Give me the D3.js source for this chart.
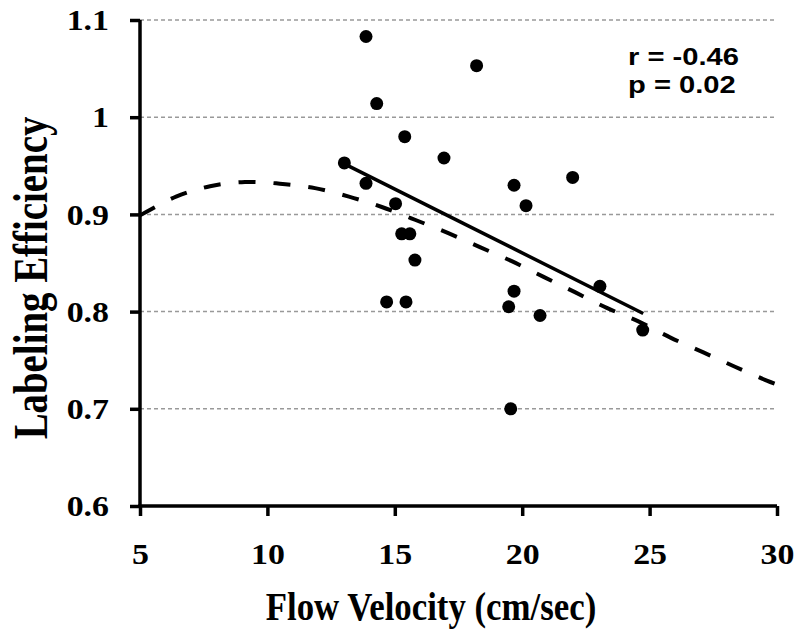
<!DOCTYPE html>
<html>
<head>
<meta charset="utf-8">
<script src="https://cdn.jsdelivr.net/npm/d3@7"></script>
<style>
  html, body { margin: 0; padding: 0; background: #fff; }
  svg { display: block; }
</style>
</head>
<body>
<svg id="chart" width="800" height="636"></svg>
<script>
// ---- Data ----
const pointX = [13.87, 18.21, 14.29, 15.39, 16.93, 13.02, 13.87, 19.68, 21.98, 20.15, 15.03,
                15.27, 15.59, 15.79, 14.68, 15.44, 19.68, 19.47, 20.70, 23.05, 24.73, 19.55];
const pointY = [1.083, 1.053, 1.014, 0.980, 0.958, 0.953, 0.932, 0.930, 0.938, 0.909, 0.911,
                0.880, 0.880, 0.853, 0.810, 0.810, 0.821, 0.805, 0.796, 0.826, 0.781, 0.700];

// linear regression line (solid) end points
const fitX = [13.02, 24.75];
const fitY = [0.952, 0.798];

// dashed model curve
const curveX = [5, 6.44, 7.75, 9.12, 10.49, 11.87, 13.2, 14.49, 15.79, 17.10, 18.34, 19.59,
                20.82, 22.07, 23.32, 24.56, 25.80, 27.11, 28.35, 29.6, 30];
const curveY = [0.899, 0.9186, 0.929, 0.9333, 0.9316, 0.927, 0.9183, 0.9076, 0.8945, 0.8807,
                0.8663, 0.8519, 0.836, 0.820, 0.8038, 0.790, 0.7735, 0.758, 0.7433, 0.729, 0.725];

const xTicks = [5, 10, 15, 20, 25, 30];
const yTicks = [0.6, 0.7, 0.8, 0.9, 1.0, 1.1];
const yTickLabels = ["0.6", "0.7", "0.8", "0.9", "1", "1.1"];
const gridValues = [0.7, 0.8, 0.9, 1.0, 1.1];
const statLines = ["r = -0.46", "p = 0.02"];
const xTitle = "Flow Velocity (cm/sec)";
const yTitle = "Labeling Efficiency";

// ---- Layout ----
const svg = d3.select("#chart");
const mLeft = 140, mRight = 777, mTop = 20, mBottom = 506;
const x = d3.scaleLinear().domain([5, 30]).range([mLeft, mRight]);
const y = d3.scaleLinear().domain([0.6, 1.1]).range([mBottom, mTop]);
const serif = "'Liberation Serif', 'Times New Roman', serif";
const sans = "'Liberation Sans', Arial, sans-serif";
const tickStretch = 1.13;

// gridlines
svg.append("g").selectAll("line").data(gridValues).join("line")
  .attr("x1", mLeft).attr("x2", mRight)
  .attr("y1", d => y(d)).attr("y2", d => y(d))
  .attr("stroke", "#999").attr("stroke-width", 1.5)
  .attr("stroke-dasharray", "4,3");

// axes
const yAxis = d3.axisLeft(y).tickValues(yTicks).tickSize(10).tickSizeOuter(0).tickPadding(21)
  .tickFormat((d, i) => yTickLabels[i]);
const gy = svg.append("g").attr("transform", `translate(${mLeft},0)`).call(yAxis);
const xAxis = d3.axisBottom(x).tickValues(xTicks).tickSize(10).tickSizeOuter(0).tickPadding(27)
  .tickFormat(d3.format("d"));
const gx = svg.append("g").attr("transform", `translate(0,${mBottom})`).call(xAxis);

[gx, gy].forEach(g => {
  g.select(".domain").attr("stroke", "#000").attr("stroke-width", 3.5);
  g.selectAll(".tick line").attr("stroke", "#000").attr("stroke-width", 3.5);
  g.selectAll(".tick text").attr("fill", "#000")
    .style("font-family", serif).style("font-weight", "bold").style("font-size", "30px")
    .attr("transform", `scale(${tickStretch},1)`);
});
gy.selectAll(".tick text").attr("x", -31 / tickStretch);
gx.select(".domain").attr("d", `M${mLeft - 1.75},0H${mRight}`);
gy.select(".domain").attr("d", `M0,${mBottom + 1.75}V${mTop}`);

// dashed model curve
const line = d3.line().x(d => x(d[0])).y(d => y(d[1])).curve(d3.curveCatmullRom);
svg.append("path")
  .datum(curveX.map((v, i) => [v, curveY[i]]))
  .attr("d", line)
  .attr("fill", "none").attr("stroke", "#000").attr("stroke-width", 4)
  .attr("stroke-dasharray", "17,18");

// regression line
svg.append("path")
  .datum(fitX.map((v, i) => [v, fitY[i]]))
  .attr("d", d3.line().x(d => x(d[0])).y(d => y(d[1])))
  .attr("fill", "none").attr("stroke", "#000").attr("stroke-width", 3.5);

// points
svg.append("g").selectAll("circle").data(pointX.map((v, i) => [v, pointY[i]])).join("circle")
  .attr("cx", d => x(d[0])).attr("cy", d => y(d[1])).attr("r", 6.5).attr("fill", "#000");

// stats text
svg.append("g").attr("transform", "translate(628,0) scale(1.19,1)")
  .selectAll("text").data(statLines).join("text")
  .attr("x", 0).attr("y", (d, i) => 65 + i * 28)
  .style("font-family", sans).style("font-weight", "bold").style("font-size", "24.5px")
  .attr("fill", "#000").text(d => d);

// axis titles
svg.append("text")
  .attr("transform", "translate(431,620) scale(0.87,1)")
  .attr("text-anchor", "middle")
  .style("font-family", serif).style("font-weight", "bold").style("font-size", "40px")
  .text(xTitle);
svg.append("text")
  .attr("transform", "translate(47,278) rotate(-90) scale(0.81,1)")
  .attr("text-anchor", "middle")
  .style("font-family", serif).style("font-weight", "bold").style("font-size", "48px")
  .text(yTitle);
</script>
</body>
</html>
